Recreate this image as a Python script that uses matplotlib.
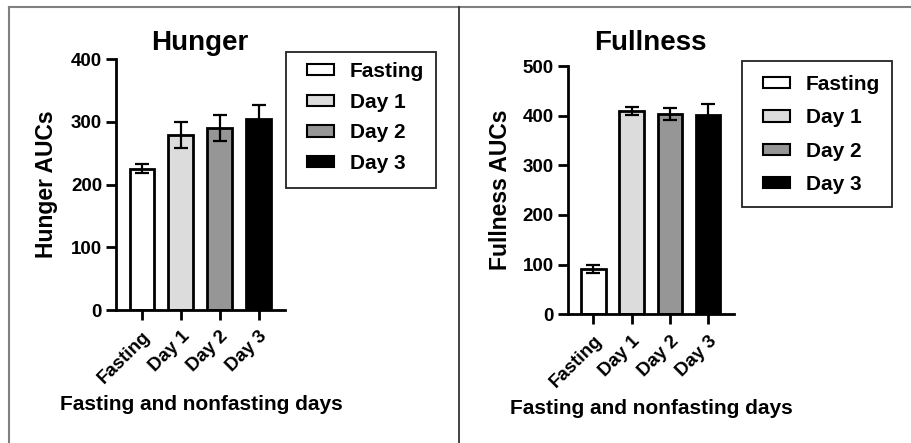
import numpy as np
import matplotlib
matplotlib.use('Agg')
from matplotlib import pyplot as plt
from matplotlib.patches import Patch, Rectangle
from matplotlib.lines import Line2D

plt.rcParams['font.family'] = ['Liberation Sans', 'DejaVu Sans']
plt.rcParams['font.weight'] = 'bold'

groups = ['Fasting', 'Day 1', 'Day 2', 'Day 3']
colors = ['#ffffff', '#dcdcdc', '#969696', '#000000']

hunger = [225, 279, 290, 305]
hunger_err = [7, 20.5, 21, 21]

fullness = [91, 409, 404, 401]
fullness_err = [8.5, 8, 12, 22]

W, H = 912, 443
fig = plt.figure(figsize=(W / 100, H / 100), dpi=100)


def px(x, y):
    return x / W, 1 - y / H


def panel(rect, vals, errs, ymax, step, title, ylabel, title_xy, ylab_xy, xlab_xy,
          leg_box, leg_anchor, lspace):
    ax = fig.add_axes(rect)
    x = np.arange(len(groups))
    ax.bar(x, vals, width=0.64, color=colors, edgecolor='black', linewidth=2, zorder=2)
    ax.errorbar(x, vals, yerr=errs, fmt='none', ecolor='black', elinewidth=1.6,
                capsize=5, capthick=1.6, zorder=3)
    ax.set_xlim(-0.67, 3.68)
    ax.set_ylim(0, ymax)
    ax.set_yticks(np.arange(0, ymax + 1, step))
    ax.set_xticks(x)
    ax.set_xticklabels(groups, rotation=45, ha='right', va='top', rotation_mode='anchor')
    for s in ['top', 'right']:
        ax.spines[s].set_visible(False)
    for s in ['left', 'bottom']:
        ax.spines[s].set_linewidth(2)
    ax.tick_params(width=2, length=7, labelsize=13.5, pad=3)
    ax.tick_params(axis='x', pad=6)
    # titles and axis labels placed in pixel coords of the figure
    fig.text(*px(*title_xy), title, fontsize=20, fontweight='bold', ha='center', va='center')
    fig.text(*px(*ylab_xy), ylabel, fontsize=16.5, fontweight='bold',
             ha='center', va='center', rotation=90)
    fig.text(*px(*xlab_xy), 'Fasting and nonfasting days', fontsize=15,
             fontweight='bold', ha='center', va='center')
    # legend frame drawn by hand so the padding matches
    x0, y0, x1, y1 = leg_box
    fig.add_artist(Rectangle(px(x0, y1), (x1 - x0) / W, (y1 - y0) / H, transform=fig.transFigure,
                             facecolor='none', edgecolor='#222222', linewidth=1.3))
    handles = [Patch(facecolor=c, edgecolor='black', linewidth=1.5) for c in colors]
    fig.legend(handles, groups, loc='upper left', bbox_to_anchor=px(*leg_anchor),
               borderaxespad=0, borderpad=0, fontsize=15, frameon=False,
               handlelength=1.3, handleheight=0.45, handletextpad=0.75,
               labelspacing=lspace)
    return ax


panel([0.1272, 0.3002, 0.1853, 0.5666], hunger, hunger_err, 400, 100,
      'Hunger', 'Hunger AUCs', (200, 43), (47, 184), (201, 405),
      (286, 52, 436, 188), (307, 62), 0.56)
panel([0.6225, 0.2905, 0.1823, 0.5605], fullness, fullness_err, 500, 100,
      'Fullness', 'Fullness AUCs', (650, 43), (501, 190), (651, 409),
      (742, 61, 892, 207), (763, 75), 0.69)

# outer frame lines of the composite figure
fig.add_artist(Line2D([9 / W, 1], [1 - 7 / H, 1 - 7 / H], color='#808080', linewidth=1.5))
fig.add_artist(Line2D([9 / W, 9 / W], [0, 1 - 7 / H], color='#808080', linewidth=1.5))
fig.add_artist(Line2D([459 / W, 459 / W], [0, 1 - 7 / H], color='#333333', linewidth=1.3))

fig.savefig('out.png', dpi=100)
